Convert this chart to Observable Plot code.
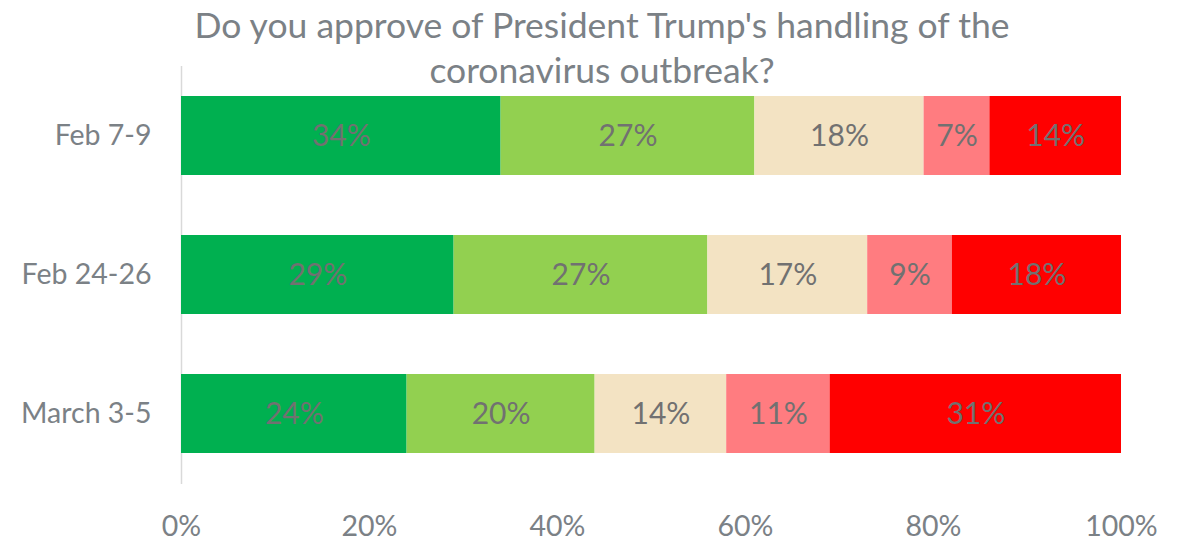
<!DOCTYPE html>
<html>
<head>
<meta charset="utf-8">
<script src="https://cdn.jsdelivr.net/npm/d3@7"></script>
<script src="https://cdn.jsdelivr.net/npm/@observablehq/plot@0.6"></script>
<style>
  html, body { margin: 0; padding: 0; background: #fff; }
  #wrap { position: relative; width: 1186px; height: 541px; }
  #title { position: absolute; left: 18px; top: 2px; width: 1168px; text-align: center;
    font-family: Lato, sans-serif; font-size: 35.5px; line-height: 45px; color: #7b8186; }
  #chart { position: absolute; left: 0; top: 0; }
</style>
</head>
<body>
<div id="wrap">
  <div id="chart"></div>
  <div id="title">Do you approve of President Trump's handling of the<br>coronavirus outbreak?</div>
</div>
<script>
const periods = ["Feb 7-9", "Feb 24-26", "March 3-5"];
const series = ["Strongly approve", "Somewhat approve", "Neutral", "Somewhat disapprove", "Strongly disapprove"];
const colors = ["#00B050", "#92D050", "#F3E3C3", "#FF7C80", "#FF0000"];
const feb7 = [34, 27, 18, 7, 14];
const feb24 = [29, 27, 17, 9, 18];
const mar3 = [24, 20, 14, 11, 31];
const xTicks = [0, 20, 40, 60, 80, 100];

const rows = [feb7, feb24, mar3];
const data = [];
periods.forEach((p, i) => series.forEach((s, j) => data.push({period: p, series: s, value: rows[i][j]})));

const chart = Plot.plot({
  width: 1186,
  height: 541,
  marginTop: 66,
  marginBottom: 57,
  marginLeft: 181,
  marginRight: 65,
  style: {fontFamily: "Lato, sans-serif", fontSize: "28.5px", color: "#7b8186", background: "transparent"},
  x: {domain: [0, 100], ticks: xTicks, tickFormat: d => d + "%", tickSize: 0, tickPadding: 31, label: null},
  y: {domain: periods, paddingInner: 0.43, paddingOuter: 0.215, tickSize: 0, tickPadding: 30, label: null},
  color: {domain: series, range: colors},
  marks: [
    Plot.ruleX([0], {stroke: "#d9d9d9", strokeWidth: 1.5}),
    Plot.barX(data, Plot.stackX({order: series, x: "value", y: "period", z: "series", fill: "series"})),
    Plot.text(data, Plot.stackX({order: series, x: "value", y: "period", z: "series",
      text: d => d.value + "%", fill: "#717171", fontSize: 30}))
  ]
});
document.getElementById("chart").appendChild(chart);
</script>
</body>
</html>
